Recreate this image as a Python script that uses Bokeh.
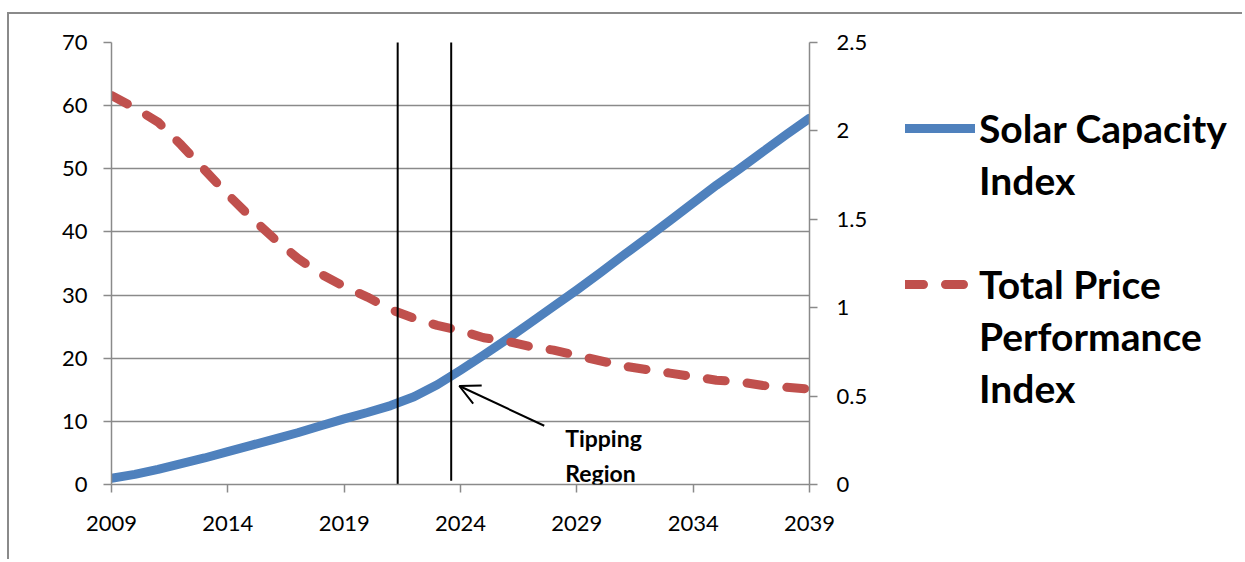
from bokeh.plotting import figure
from bokeh.layouts import row
from bokeh.models import (LinearAxis, Range1d, Arrow, OpenHead, Label, Legend,
                          LegendItem, FixedTicker)
from bokeh.embed import file_html
from bokeh.resources import INLINE

# ---------------- data ----------------
years = list(range(2009, 2040))
solar_capacity = [1.0, 1.6, 2.4, 3.3, 4.2, 5.2, 6.2, 7.2, 8.2, 9.3, 10.4,
                  11.4, 12.5, 13.9, 15.8, 18.1, 20.5, 23.0, 25.6, 28.2, 30.8,
                  33.5, 36.3, 39.0, 41.8, 44.6, 47.4, 50.0, 52.7, 55.4, 58.0]
price_performance = [2.20, 2.13, 2.05, 1.92, 1.78, 1.64, 1.51, 1.39, 1.28, 1.19,
                     1.12, 1.06, 0.99, 0.94, 0.90, 0.87, 0.83, 0.81, 0.78, 0.76,
                     0.73, 0.70, 0.67, 0.65, 0.63, 0.61, 0.59, 0.58, 0.56, 0.55,
                     0.54]
x_ticks = [2009, 2014, 2019, 2024, 2029, 2034, 2039]
left_ticks = [0, 10, 20, 30, 40, 50, 60, 70]
right_ticks = [0, 0.5, 1, 1.5, 2, 2.5]
right_tick_labels = ["0", "0.5", "1", "1.5", "2", "2.5"]
tipping_bounds = [2021.3, 2023.6]
legend_lines = [["Solar Capacity", "Index"], ["Total Price", "Performance", "Index"]]
annotation_text = "Tipping\nRegion"

# ---------------- style ----------------
BLUE = "#4F81BD"
RED = "#C0504D"
GRAY = "#8a8a8a"
FONT = "Lato"
H = 545

p = figure(width=871, height=H, output_backend="svg", toolbar_location=None,
           x_range=Range1d(2009, 2039), y_range=Range1d(0, 70),
           min_border_left=102, min_border_right=71, min_border_top=28,
           min_border_bottom=75, background_fill_color="white",
           border_fill_color="white")
p.outline_line_color = None
p.extra_y_ranges = {"right": Range1d(0, 2.5)}

# grid
p.xgrid.visible = False
p.ygrid.ticker = FixedTicker(ticks=left_ticks)
p.ygrid.grid_line_color = GRAY
p.ygrid.grid_line_width = 1.5

def style_axis(ax):
    ax.axis_line_color = GRAY
    ax.axis_line_width = 1.5
    ax.major_tick_line_color = GRAY
    ax.major_tick_line_width = 1.5
    ax.major_tick_out = 8
    ax.major_tick_in = 0
    ax.minor_tick_line_color = None
    ax.major_label_text_font = FONT
    ax.major_label_text_font_size = "22px"
    ax.major_label_text_color = "black"

p.xaxis.ticker = FixedTicker(ticks=x_ticks)
p.yaxis.ticker = FixedTicker(ticks=left_ticks)
style_axis(p.xaxis[0])
style_axis(p.yaxis[0])
p.xaxis.major_label_standoff = 23
p.yaxis.major_label_standoff = 16

right_axis = LinearAxis(y_range_name="right",
                        ticker=FixedTicker(ticks=right_ticks),
                        major_label_overrides={t: l for t, l in zip(right_ticks, right_tick_labels)})
style_axis(right_axis)
right_axis.major_label_standoff = 19
p.add_layout(right_axis, "right")

# series
line_styles = [dict(line_color=BLUE, line_width=9, line_cap="round", line_join="round"),
               dict(line_color=RED, line_width=9, line_dash="18 22", line_cap="round",
                    line_join="round")]
series = [solar_capacity, price_performance]
r_blue = p.line(years, solar_capacity, **line_styles[0])
r_red = p.line(years, price_performance, y_range_name="right", **line_styles[1])

# tipping region bounds
p.segment(x0=tipping_bounds, x1=tipping_bounds, y0=[0, 0.6], y1=[70.3, 70.3],
          line_color="black", line_width=2)

# arrow + annotation text
p.add_layout(Arrow(end=OpenHead(size=20, line_width=2, line_color="black"),
                   x_start=2027.6, y_start=9.3, x_end=2023.95, y_end=15.6,
                   line_width=2, line_color="black"))
p.add_layout(Label(x=2028.5, y=4.6, text=annotation_text, text_font=FONT,
                   text_font_style="bold", text_font_size="23px",
                   text_color="black", text_baseline="middle", text_align="left",
                   text_line_height=1.25))

# ---------------- legend panel ----------------
lg = figure(width=362, height=H, output_backend="svg", toolbar_location=None,
            x_range=Range1d(0, 1), y_range=Range1d(0, 1),
            x_axis_type=None, y_axis_type=None,
            min_border_left=0, min_border_right=0, min_border_top=0,
            min_border_bottom=0, background_fill_color="white",
            border_fill_color="white")
lg.outline_line_color = None
lg.grid.visible = False
# legend proxies: same series and styles, lying outside this panel's ranges
proxies = [lg.line(years, s, **st) for s, st in zip(series, line_styles)]

items = []
for renderer, lines in zip(proxies, legend_lines):
    if items:
        items.append(LegendItem(label=" ", renderers=[]))
    items.append(LegendItem(label=lines[0], renderers=[renderer]))
    for extra in lines[1:]:
        items.append(LegendItem(label=extra, renderers=[]))
legend = Legend(items=items, location=(25, 73), orientation="vertical")
legend.label_text_font = FONT
legend.label_text_font_style = "bold"
legend.label_text_font_size = "39px"
legend.label_text_color = "black"
legend.label_height = 46
legend.glyph_height = 46
legend.glyph_width = 70
legend.label_standoff = 4
legend.spacing = 6
legend.border_line_color = None
legend.background_fill_alpha = 0
legend.margin = 0
legend.padding = 0
lg.add_layout(legend, "center")

layout = row(p, lg)
layout.margin = (12, 0, 0, 7)
layout.styles = {"border-top": "2px solid #8a8a8a", "border-left": "2px solid #8a8a8a"}

open("out.html", "w").write(file_html(layout, INLINE))
